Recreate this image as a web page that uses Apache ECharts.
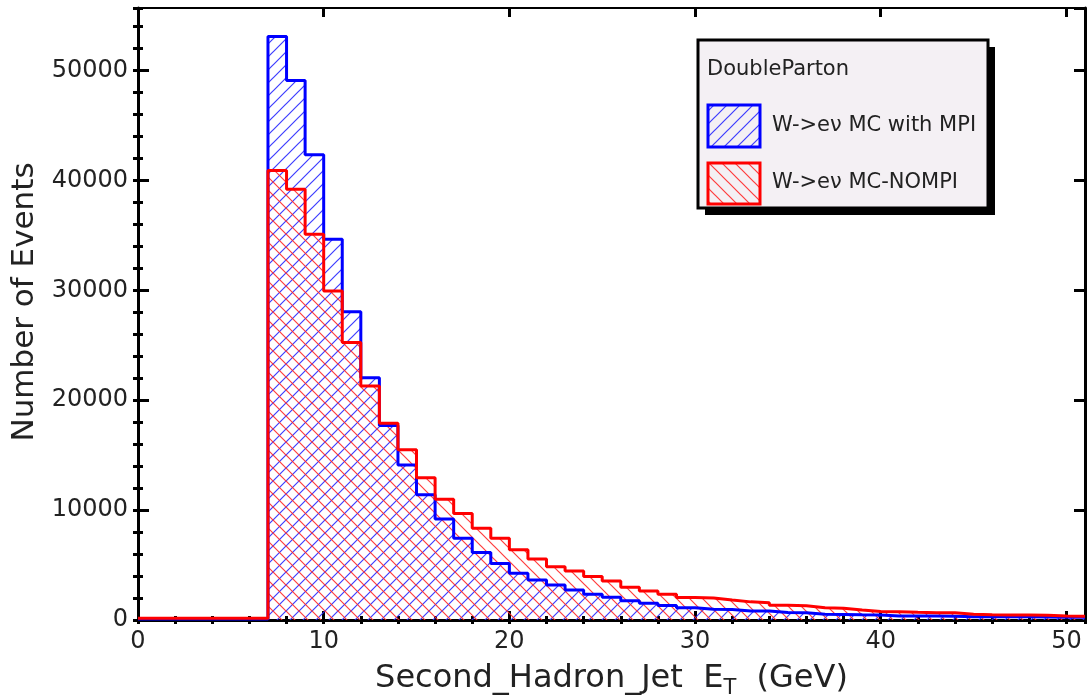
<!DOCTYPE html>
<html><head><meta charset="utf-8">
<script src="https://cdn.jsdelivr.net/npm/echarts@6/dist/echarts.min.js"></script>
<style>html,body{margin:0;padding:0;background:#fff}#c{width:1088px;height:697px}</style>
</head><body><div id="c"></div>
<script>
// ---- data (bin low edges in GeV, bin width 1 GeV) ----
const binLowEdges = [0,1,2,3,4,5,6,7,8,9,10,11,12,13,14,15,16,17,18,19,20,21,22,23,24,25,26,27,28,29,30,31,32,33,34,35,36,37,38,39,40,41,42,43,44,45,46,47,48,49,50];
const binWidth = 1;
const mpiCounts = [100,100,100,100,100,100,100,
  53100,49100,42350,34650,28050,22050,17700,14100,11400,9200,
  7450,6150,5150,4250,3650,3190,2730,2340,2060,1760,
  1520,1310,1120,980,960,830,810,680,660,530,
  510,470,450,370,360,360,350,300,300,290,290,280,250,240];
const nompiCounts = [150,150,150,150,150,150,150,
  40900,39200,35100,29950,25250,21300,17900,15500,12950,11000,
  9700,8350,7450,6400,5550,4850,4450,3950,3550,2970,
  2640,2340,2050,2000,1820,1650,1580,1350,1290,1110,
  1070,910,780,760,700,670,650,520,470,460,450,440,360,350];
const seriesNames = ['W->e\u03bd MC with MPI', 'W->e\u03bd MC-NOMPI'];
const legendTitle = 'DoubleParton';
const xTitle = 'Second_Hadron_Jet  {e|E}{s|T}  (GeV)';
const yTitle = 'Number of Events';

const FONT = '"DejaVu Sans", "Liberation Sans", sans-serif';

function hatch(color, dir) {
  const s = 13, c = document.createElement('canvas');
  c.width = s; c.height = s;
  const g = c.getContext('2d');
  g.strokeStyle = color; g.lineWidth = 1.2;
  g.beginPath();
  if (dir > 0) {
    g.moveTo(-2, s + 2); g.lineTo(s + 2, -2);
    g.moveTo(-2, 2); g.lineTo(2, -2);
    g.moveTo(s - 2, s + 2); g.lineTo(s + 2, s - 2);
  } else {
    g.moveTo(-2, -2); g.lineTo(s + 2, s + 2);
    g.moveTo(s - 2, -2); g.lineTo(s + 2, 2);
    g.moveTo(-2, s - 2); g.lineTo(2, s + 2);
  }
  g.stroke();
  return { image: c, repeat: 'repeat' };
}
const blueHatch = hatch('rgba(40,40,255,0.9)', 1);
const redHatch = hatch('rgba(255,40,40,0.9)', -1);

function steps(counts) {
  const pts = counts.map((v, i) => [binLowEdges[i], v]);
  const last = counts.length - 1;
  pts.push([binLowEdges[last] + binWidth, counts[last]]);
  return pts;
}

const X_MAX = 51, Y_MAX = 55700;
const plain = v => String(Math.round(v));
function majorX(pos, labels) {
  return { type: 'value', min: 0, max: X_MAX, interval: 10, position: pos,
    axisLine: { show: true, onZero: false, lineStyle: { color: '#000', width: pos === 'bottom' ? 3 : 2 } },
    axisTick: { show: true, inside: true, length: 9, lineStyle: { color: '#000', width: 3 } },
    axisLabel: { show: labels, showMaxLabel: false, formatter: plain, fontSize: 24, fontFamily: FONT, color: '#222', margin: 10 },
    splitLine: { show: false } };
}
function minorX(pos) {
  return { type: 'value', min: 0, max: X_MAX, interval: 2, position: pos,
    axisLine: { show: false }, axisLabel: { show: false }, splitLine: { show: false },
    axisTick: { show: true, inside: true, length: 4, lineStyle: { color: '#000', width: 3 } } };
}
function majorY(pos, labels) {
  return { type: 'value', min: 0, max: Y_MAX, interval: 10000, position: pos,
    axisLine: { show: true, onZero: false, lineStyle: { color: '#000', width: 3 } },
    axisTick: { show: true, inside: true, length: 11, lineStyle: { color: '#000', width: 3 } },
    axisLabel: { show: labels, showMaxLabel: false, formatter: plain, fontSize: 24, fontFamily: FONT, color: '#222', margin: 10 },
    splitLine: { show: false } };
}
function minorY(pos) {
  return { type: 'value', min: 0, max: Y_MAX, interval: 2000, position: pos,
    axisLine: { show: false }, axisLabel: { show: false }, splitLine: { show: false },
    axisTick: { show: true, inside: true, length: 5, lineStyle: { color: '#000', width: 3 } } };
}

const xMain = majorX('bottom', true);
Object.assign(xMain, { name: xTitle, nameLocation: 'middle', nameGap: 23,
  nameTextStyle: { fontSize: 32, fontFamily: FONT, color: '#222', lineHeight: 40,
    rich: { e: { fontSize: 32, fontFamily: FONT, color: '#222', lineHeight: 40 },
            s: { fontSize: 21, fontFamily: FONT, color: '#222', verticalAlign: 'bottom', lineHeight: 21 } } } });
const yMain = majorY('left', true);
Object.assign(yMain, { name: yTitle, nameLocation: 'middle', nameGap: 88, nameRotate: 90,
  nameTextStyle: { fontSize: 31, fontFamily: FONT, color: '#222', padding: [0, 0, 0, 24] } });

const chart = echarts.init(document.getElementById('c'), null, { renderer: 'canvas' });
chart.setOption({
  animation: false,
  backgroundColor: '#fff',
  grid: { left: 138, right: 3, top: 8, bottom: 77, containLabel: false, outerBoundsMode: 'none' },
  xAxis: [xMain, minorX('bottom'), majorX('top', false), minorX('top')],
  yAxis: [yMain, minorY('left'), majorY('right', false), minorY('right')],
  series: [
    { name: seriesNames[0] + ' fill', type: 'line', step: 'end', data: steps(mpiCounts), showSymbol: false, silent: true,
      lineStyle: { width: 0, opacity: 0 }, areaStyle: { color: blueHatch, opacity: 1 }, z: 2 },
    { name: seriesNames[1] + ' fill', type: 'line', step: 'end', data: steps(nompiCounts), showSymbol: false, silent: true,
      lineStyle: { width: 0, opacity: 0 }, areaStyle: { color: redHatch, opacity: 1 }, z: 3 },
    { name: seriesNames[0], type: 'line', step: 'end', data: steps(mpiCounts), showSymbol: false, silent: true,
      lineStyle: { color: '#0000ff', width: 3 }, z: 4 },
    { name: seriesNames[1], type: 'line', step: 'end', data: steps(nompiCounts), showSymbol: false, silent: true,
      lineStyle: { color: '#ff0000', width: 3 }, z: 5 }
  ],
  graphic: [
    { type: 'rect', shape: { x: 705, y: 47, width: 290, height: 168 }, style: { fill: '#000' }, z: 10 },
    { type: 'rect', shape: { x: 698, y: 40, width: 290, height: 168 }, style: { fill: '#f4f0f4', stroke: '#000', lineWidth: 3 }, z: 11 },
    { type: 'text', x: 707, y: 70, style: { text: legendTitle, fill: '#222', font: '21px ' + FONT, verticalAlign: 'middle' }, z: 12 },
    { type: 'rect', shape: { x: 708, y: 105, width: 52, height: 42 }, style: { fill: blueHatch, stroke: '#0000ff', lineWidth: 3 }, z: 12 },
    { type: 'text', x: 772, y: 126, style: { text: seriesNames[0], fill: '#222', font: '21px ' + FONT, verticalAlign: 'middle' }, z: 12 },
    { type: 'rect', shape: { x: 708, y: 163, width: 52, height: 41 }, style: { fill: redHatch, stroke: '#ff0000', lineWidth: 3 }, z: 12 },
    { type: 'text', x: 772, y: 183, style: { text: seriesNames[1], fill: '#222', font: '21px ' + FONT, verticalAlign: 'middle' }, z: 12 }
  ]
});
</script></body></html>
